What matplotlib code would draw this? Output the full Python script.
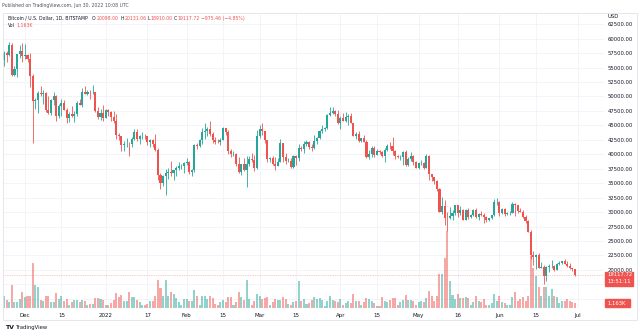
import matplotlib
matplotlib.use("Agg")
import matplotlib.pyplot as plt
import matplotlib.transforms as mtransforms
from matplotlib.patches import Rectangle
import numpy as np
import pandas as pd

# daily candles, BITSTAMP BTC/USD, 2021-11-23 .. 2022-06-30
dates = pd.date_range("2021-11-23", "2022-06-30", freq="D")

opens = [
    56300, 57600, 57200, 58950, 53700, 54750, 57300, 57800,  # Nov
    56950, 57200, 56500, 53600, 49200, 49400, 50600, 50500, 50600, 47600,
    47100, 49400, 50100, 46700, 48400, 48900, 47600, 46200, 46900, 46700,
    46900, 48900, 48600, 50800, 50400, 50800, 50700, 50700, 47500, 46500, 47100,  # Dec
    46200, 47700, 47300, 46400, 45800, 43400, 43100, 41550, 41700, 41850,
    41800, 42700, 43900, 42600, 43100, 43200, 43100, 42200, 42400, 41700,
    40700, 36500, 35100, 36300, 36700, 36950, 36850, 37200, 37700, 37900, 37900,  # Jan
    38500, 38700, 36900, 37300, 41600, 41400, 42400, 43850, 44100, 44400,
    43550, 42400, 42200, 42100, 42550, 44550, 43900, 40550, 40000, 40100,
    38400, 37000, 38250, 37300, 38350, 39250, 39100, 37700,  # Feb
    43200, 44400, 43950, 42450, 39150, 39400, 38400, 38000, 38750, 41950,
    39450, 38800, 38800, 37800, 39700, 39300, 41100, 40950, 41800, 42200,
    41250, 41050, 42350, 42900, 43950, 44350, 44500, 46850, 47100, 47450, 47050,  # Mar
    45500, 46300, 45800, 46400, 46600, 45500, 43200, 43450, 42300, 42800,
    42200, 39500, 40100, 41150, 39950, 40550, 40400, 39700, 40800, 41500,
    41350, 40500, 39700, 39450, 39450, 40450, 38100, 39250, 39750, 38600,  # Apr
    37650, 38450, 38500, 37700, 39700, 36550, 36000, 35450, 34050, 30100,
    31000, 29000, 28950, 29300, 29850, 31300, 29850, 30400, 28700, 30300,
    29200, 29450, 30300, 29100, 29650, 29550, 29200, 28600, 28950, 29450, 31700,  # May
    31800, 29800, 30450, 29700, 29850, 29900, 31350, 31150, 30200, 30100,
    29100, 28400, 26600, 22500, 22150, 22600, 20400, 20500, 19000, 20550,
    20600, 20700, 20000, 21100, 21250, 21500, 21050, 20700, 20250, 20098.00,  # Jun
]
highs = [
    57900, 57800, 59400, 59200, 55300, 57400, 58900, 59200,
    59100, 57400, 57600, 53900, 49700, 50900, 51900, 51200, 50800, 50000,
    49500, 50800, 50200, 48700, 49500, 49400, 48000, 47300, 48300, 47500,
    49300, 49600, 51400, 51800, 51200, 51200, 52000, 50700, 48100, 47900, 48500,
    47900, 47900, 47500, 47500, 47000, 43700, 43100, 42300, 42800, 42200,
    43000, 44300, 44400, 43400, 43800, 43500, 43200, 42700, 42600, 43500,
    41100, 36800, 36500, 37500, 37600, 38900, 37200, 38000, 38700, 38300, 38700,
    39300, 38900, 37400, 41700, 41900, 42600, 44500, 45400, 44800, 45800,
    43900, 43000, 42700, 42900, 44700, 44600, 44200, 40950, 40500, 40200,
    39500, 38400, 39300, 39700, 39700, 40300, 39900, 44200,
    45000, 45400, 44100, 42500, 39600, 39700, 39500, 39300, 42600, 42000,
    40200, 39400, 39300, 39900, 39900, 41700, 41500, 42300, 42400, 42300,
    41700, 43300, 43000, 44200, 45000, 44800, 46900, 48100, 48200, 47700, 47600,
    46700, 47200, 47400, 46900, 47200, 45500, 43900, 43950, 42800, 43400,
    42400, 40700, 41500, 41500, 40850, 40700, 40600, 41100, 41700, 42200,
    42950, 40800, 39900, 39900, 40600, 40800, 39450, 40350, 39900, 38800,
    38650, 39100, 38600, 40000, 39800, 36650, 36100, 35500, 34250, 32600,
    32100, 30100, 30950, 30300, 31300, 31300, 31000, 30600, 30500, 30700,
    29600, 30450, 30650, 29800, 30200, 29850, 29350, 29050, 29550, 32200, 32400,
    31950, 30650, 30650, 29950, 30150, 31750, 31550, 31300, 30650, 30350,
    29450, 28550, 26900, 23300, 22750, 22950, 21350, 20800, 20750, 21000,
    21700, 20850, 21200, 21500, 21600, 21850, 21500, 21200, 20400, 20131.06,
]
lows = [
    55300, 55900, 57000, 53600, 53600, 53300, 56700, 55900,
    56500, 55900, 51700, 42000, 47800, 47100, 50100, 48700, 47400, 47000,
    46800, 48600, 45700, 46300, 46600, 47600, 45500, 45600, 46400, 45600,
    46700, 48500, 48100, 50500, 50300, 49500, 50500, 47300, 46100, 46000, 45700,
    46200, 46700, 45700, 45500, 42600, 42500, 40600, 40500, 41300, 39650,
    41300, 42500, 42300, 41800, 42600, 42700, 41600, 41300, 41200, 40600,
    35500, 34000, 34600, 32950, 35700, 36300, 35500, 36200, 37300, 37400, 36700,
    38100, 36600, 36300, 37000, 40900, 41200, 41700, 42700, 43200, 43200,
    42000, 41800, 41900, 41600, 42450, 43300, 40100, 39500, 39700, 38000,
    36800, 36400, 37100, 34300, 38000, 38600, 37100, 37500,
    42900, 43400, 41900, 38600, 38600, 38100, 37200, 37900, 38700, 38600,
    38300, 38700, 37600, 37600, 38200, 38900, 40500, 40200, 41500, 40900,
    40500, 40900, 41800, 42600, 43600, 44100, 44400, 46600, 46900, 46600, 45200,
    44300, 45700, 45600, 45100, 45400, 43100, 42700, 42100, 42100, 42100,
    39300, 39200, 39600, 39600, 39800, 40000, 39600, 38600, 40600, 40900,
    39800, 39200, 39300, 39000, 38200, 37900, 37900, 38900, 38200, 37600,
    37400, 38100, 37500, 37700, 35600, 35300, 34800, 33700, 30050, 29750,
    27700, 26700, 28800, 28700, 29500, 29100, 29500, 28700, 28650, 28750,
    28950, 29400, 28900, 28700, 29350, 28050, 28300, 28500, 28850, 29300, 31250,
    29350, 29600, 29300, 29500, 29500, 29900, 29250, 29850, 29950, 28900,
    28200, 26600, 21950, 20850, 20100, 20250, 20300, 17600, 18000, 19650,
    20350, 19800, 19900, 20900, 20950, 21000, 20500, 20200, 19850, 18910.00,
]
closes = [
    57600, 57200, 58950, 53700, 54750, 57300, 57800, 56950,
    57200, 56500, 53600, 49200, 49400, 50600, 50500, 50600, 47600, 47100,
    49400, 50100, 46700, 48400, 48900, 47600, 46200, 46900, 46700, 46900,
    48900, 48600, 50800, 50400, 50800, 50700, 50700, 47500, 46500, 47100, 46200,
    47700, 47300, 46400, 45800, 43400, 43100, 41550, 41700, 41850, 41800,
    42700, 43900, 42600, 43100, 43200, 43100, 42200, 42400, 41700, 40700,
    36500, 35100, 36300, 36700, 36950, 36850, 37200, 37700, 37900, 37900, 38500,
    38700, 36900, 37300, 41600, 41400, 42400, 43850, 44100, 44400, 43550,
    42400, 42200, 42100, 42550, 44550, 43900, 40550, 40000, 40100, 38400,
    37000, 38250, 37300, 38350, 39250, 39100, 37700, 43200,
    44400, 43950, 42450, 39150, 39400, 38400, 38000, 38750, 41950, 39450,
    38800, 38800, 37800, 39700, 39300, 41100, 40950, 41800, 42200, 41250,
    41050, 42350, 42900, 43950, 44350, 44500, 46850, 47100, 47450, 47050, 45500,
    46300, 45800, 46400, 46600, 45500, 43200, 43450, 42300, 42800, 42200,
    39500, 40100, 41150, 39950, 40550, 40400, 39700, 40800, 41500, 41350,
    40500, 39700, 39450, 39450, 40450, 38100, 39250, 39750, 38600, 37650,
    38450, 38500, 37700, 39700, 36550, 36000, 35450, 34050, 30100, 31000,
    29000, 28950, 29300, 29850, 31300, 29850, 30400, 28700, 30300, 29200,
    29450, 30300, 29100, 29650, 29550, 29200, 28600, 28950, 29450, 31700, 31800,
    29800, 30450, 29700, 29850, 29900, 31350, 31150, 30200, 30100, 29100,
    28400, 26600, 22500, 22150, 22600, 20400, 20500, 19000, 20550, 20600,
    20700, 20000, 21100, 21250, 21500, 21050, 20700, 20250, 20100, 19117.72,
]
# volume in thousands of BTC
volume_k = [
    2.7, 1.9, 1.4, 5.4, 1.4, 1.4, 2.2, 3.7,
    2.6, 2.7, 2.9, 10.5, 5.4, 4.8, 1.9, 1.7, 2.7, 2.9,
    1.4, 1.4, 3.5, 2.2, 2.7, 1.6, 2.2, 0.8, 1.4, 1.9,
    1.8, 1.4, 1.9, 1.6, 0.6, 1.0, 1.0, 2.3, 2.3, 2.2, 1.9,
    0.8, 0.6, 1.2, 1.9, 3.5, 2.6, 3.1, 1.7, 1.7, 3.7,
    2.6, 2.6, 1.9, 1.4, 0.6, 0.6, 1.0, 1.7, 1.7, 2.7,
    6.4, 4.7, 2.7, 6.6, 2.7, 3.7, 3.3, 2.3, 1.4, 0.8, 2.2,
    2.2, 1.7, 1.7, 4.1, 2.7, 0.8, 2.7, 2.7, 2.2, 2.7,
    2.3, 0.9, 0.6, 1.4, 1.9, 1.4, 2.5, 2.5, 0.6, 1.4,
    3.7, 2.5, 1.9, 6.6, 2.2, 0.6, 1.7, 3.3,
    2.9, 2.2, 2.3, 2.5, 0.8, 1.4, 2.2, 1.9, 1.9, 2.6,
    2.2, 0.9, 0.8, 1.4, 1.7, 6.2, 1.7, 2.2, 0.9, 1.2,
    1.9, 2.5, 2.2, 2.3, 1.9, 0.4, 1.7, 2.7, 1.9, 1.7, 1.4,
    2.2, 0.6, 1.2, 1.7, 1.2, 3.3, 1.6, 1.6, 0.6, 1.4,
    2.3, 2.2, 1.6, 1.2, 0.4, 0.4, 2.5, 1.6, 1.4, 1.9,
    2.3, 2.3, 0.6, 1.4, 1.9, 3.1, 1.9, 1.9, 1.6, 0.6,
    1.4, 1.6, 1.4, 2.3, 4.0, 2.7, 1.7, 2.7, 7.9, 7.8,
    11.6, 17.9, 6.2, 3.1, 2.2, 3.3, 2.3, 2.3, 2.5, 2.3,
    0.6, 1.4, 2.7, 1.7, 1.4, 2.2, 0.8, 0.8, 1.2, 3.3, 1.7,
    2.7, 1.4, 1.2, 0.6, 0.8, 2.5, 3.7, 1.7, 2.2, 2.5,
    1.7, 2.7, 12.0, 9.3, 7.4, 5.0, 2.7, 5.0, 4.8, 2.7,
    4.5, 2.7, 2.5, 1.2, 1.6, 1.7, 2.2, 1.7, 1.4, 1.163,
]

tick_dates = ["2021-12-01", "2021-12-15", "2022-01-01", "2022-01-17", "2022-02-01",
              "2022-02-15", "2022-03-01", "2022-03-15", "2022-04-01", "2022-04-15",
              "2022-05-01", "2022-05-16", "2022-06-01", "2022-06-15", "2022-07-01"]
tick_labels = ["Dec", "15", "2022", "17", "Feb", "15", "Mar", "15", "Apr", "15",
               "May", "16", "Jun", "15", "Jul"]
price_ticks = list(range(15000, 62501, 2500))
hidden_ticks = [15000, 17500]   # covered by the price / volume boxes

UP = "#26a69a"
DOWN = "#ef5350"
GRID = "#f0f3fa"
TXT = "#131722"

W, H = 640, 336
fig = plt.figure(figsize=(W / 100, H / 100), dpi=100)

def fx(px):
    return px / W

def fy(py):
    return 1 - py / H

# pane: x 3..604, y 14..308 (pixels)
rect = [fx(3), fy(308), fx(604) - fx(3), fy(14) - fy(308)]
vax = fig.add_axes(rect)      # volume, drawn behind
ax = vax.twinx()              # price, on top
ax.patch.set_visible(False)

o = np.array(opens, dtype=float)
h = np.array(highs, dtype=float)
l = np.array(lows, dtype=float)
c = np.array(closes, dtype=float)
v = np.array(volume_k, dtype=float)
idx = np.arange(len(dates))
up = c >= o
cols = np.where(up, UP, DOWN)

# volume bars
vax.bar(idx, v, width=0.78, color=cols, alpha=0.5, linewidth=0)
vax.set_ylim(0, 68.4)

# candles
ax.vlines(idx, l, h, colors=cols, linewidth=0.6)
body_lo = np.minimum(o, c)
body_h = np.maximum(np.abs(c - o), 60)
ax.bar(idx, body_h, bottom=body_lo, width=0.8, color=cols, linewidth=0)
ax.set_ylim(13408, 64273)

x0 = dates[0]
xt = [(pd.Timestamp(d) - x0).days for d in tick_dates]
vax.set_xlim(-0.4, 230.1)

# grid
vax.set_xticks(xt)
vax.set_xticklabels(tick_labels, fontsize=4, color=TXT)
vax.tick_params(axis="x", length=0, pad=3.5)
vax.grid(axis="x", color=GRID, linewidth=0.6)
vax.set_yticks([])
blend = mtransforms.blended_transform_factory(vax.transAxes, ax.transData)
for p in price_ticks:
    vax.plot([0, 1], [p, p], transform=blend, color=GRID, linewidth=0.6, zorder=0)
vax.set_axisbelow(True)

ax.set_yticks(price_ticks)
ax.set_yticklabels(["" if p in hidden_ticks else f"{p:.2f}" for p in price_ticks],
                   fontsize=3.8, color=TXT)
ax.tick_params(axis="y", length=0, pad=2.5)
for s in list(ax.spines.values()) + list(vax.spines.values()):
    s.set_visible(False)

# last price line
last = closes[-1]
ax.axhline(last, color=DOWN, linewidth=0.5, linestyle=(0, (1, 1.5)), alpha=0.6)

fig.canvas.draw()
_, last_py = ax.transData.transform((0, last))
_, vol_py = vax.transData.transform((0, volume_k[-1]))

# boxes on the price scale (figure texts, drawn above both axes)
fig.patches.append(Rectangle((fx(605), (last_py - 11.5) / H), fx(28), 14.5 / H,
                             transform=fig.transFigure, color=DOWN, zorder=5))
fig.text(fx(607.5), (last_py) / H, f"{last:.2f}", fontsize=3.8, color="white",
         va="center", zorder=6)
fig.text(fx(607.5), (last_py - 7) / H, "13:51:11", fontsize=3.8, color="white",
         va="center", zorder=6)
fig.patches.append(Rectangle((fx(605), (vol_py - 4) / H), fx(25), 8 / H,
                             transform=fig.transFigure, color=DOWN, zorder=5))
fig.text(fx(607.5), vol_py / H, "1.163K", fontsize=3.8, color="white",
         va="center", zorder=6)
fig.text(fx(607), fy(16), "USD", fontsize=3.8, color=TXT, va="center")

# frame
fig.patches.append(Rectangle((fx(3), fy(320)), fx(637) - fx(3), fy(13) - fy(320),
                             transform=fig.transFigure, fill=False,
                             edgecolor="#e0e3eb", linewidth=0.6))

# header and legend
FS = 3.3
fig.text(fx(2), fy(6), "Published on TradingView.com, Jun 30, 2022 10:08 UTC",
         fontsize=FS, color="#50535e", va="center")
fig.text(fx(8), fy(18.5), "Bitcoin / U.S. Dollar, 1D, BITSTAMP", fontsize=FS,
         color=TXT, va="center")
legend_parts = [(92, "O", TXT), (96.5, "20098.00", DOWN), (120.5, "H", TXT),
                (124.5, "20131.06", DOWN), (147.5, "L", TXT), (150.5, "18910.00", DOWN),
                (174, "C", TXT), (177.5, "19117.72", DOWN), (201, "\u2212975.46 (\u22124.85%)", DOWN)]
for px, s, col in legend_parts:
    fig.text(fx(px), fy(18.5), s, fontsize=FS, color=col, va="center")
fig.text(fx(8), fy(25.5), "Vol", fontsize=FS, color=TXT, va="center")
fig.text(fx(16.5), fy(25.5), "1.163K", fontsize=FS, color=DOWN, va="center")

# logo
fig.text(fx(5), fy(327.5), "TV", fontsize=4.5, fontweight="bold", color=TXT, va="center")
fig.text(fx(15.5), fy(327.5), "TradingView", fontsize=3.8, color=TXT, va="center")

fig.savefig("out.png", dpi=100)
